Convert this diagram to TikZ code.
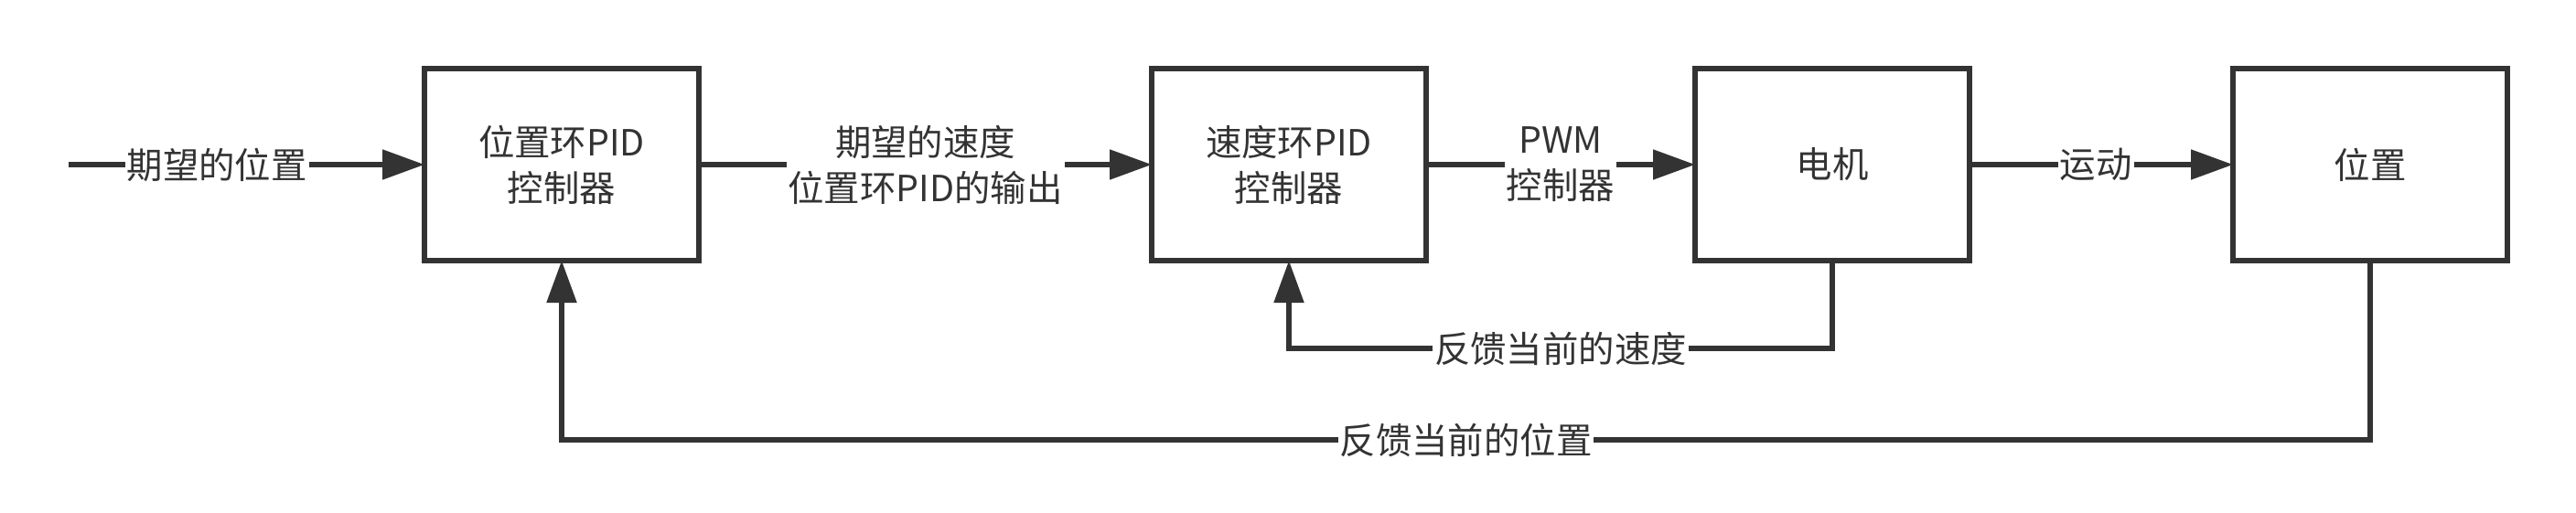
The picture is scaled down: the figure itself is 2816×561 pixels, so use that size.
\documentclass[tikz,border=0pt]{standalone}
\usepackage{fontspec}
\setmainfont{Noto Sans CJK SC}
\usetikzlibrary{arrows.meta}
\definecolor{ink}{HTML}{333333}
\tikzset{
  blk/.style={draw=ink, line width=2.8pt, minimum width=150pt, minimum height=105pt,
    outer sep=0pt, inner sep=2pt, align=center, text=ink,
    font=\fontsize{19.7}{25}\selectfont},
  conn/.style={draw=ink, line width=2.6pt},
  arr/.style={conn, -{Triangle[length=23pt, width=16pt]}},
  lbl/.style={fill=white, inner sep=1pt, text=ink, align=center,
    font=\fontsize{19.7}{25}\selectfont},
}
\begin{document}
\begin{tikzpicture}[x=0.5pt, y=-0.5pt]
\useasboundingbox[fill=white] (0,0) rectangle (2816,561);
\node[blk] (pos) at (614,180) {位置环PID\\控制器};
\node[blk] (spd) at (1409,180) {速度环PID\\控制器};
\node[blk] (mot) at (2003,180) {电机};
\node[blk] (loc) at (2591,180) {位置};
\coordinate (in) at (75,180);
\coordinate (m1) at (2003,381);
\coordinate (m2) at (1409,381);
\coordinate (l1) at (2591,481);
\coordinate (l2) at (614,481);
\draw[arr] (in) -- node[lbl, pos=0.417] {期望的位置} (pos.west);
\draw[arr] (pos.east) -- node[lbl] {期望的速度\\位置环PID的输出} (spd.west);
\draw[arr] (spd.east) -- node[lbl] {PWM\\控制器} (mot.west);
\draw[arr] (mot.east) -- node[lbl, pos=0.48] {运动} (loc.west);
\draw[arr] (mot.south) -- (m1) -- node[lbl] {反馈当前的速度} (m2) -- (spd.south);
\draw[arr] (loc.south) -- (l1) -- node[lbl] {反馈当前的位置} (l2) -- (pos.south);
\end{tikzpicture}
\end{document}
